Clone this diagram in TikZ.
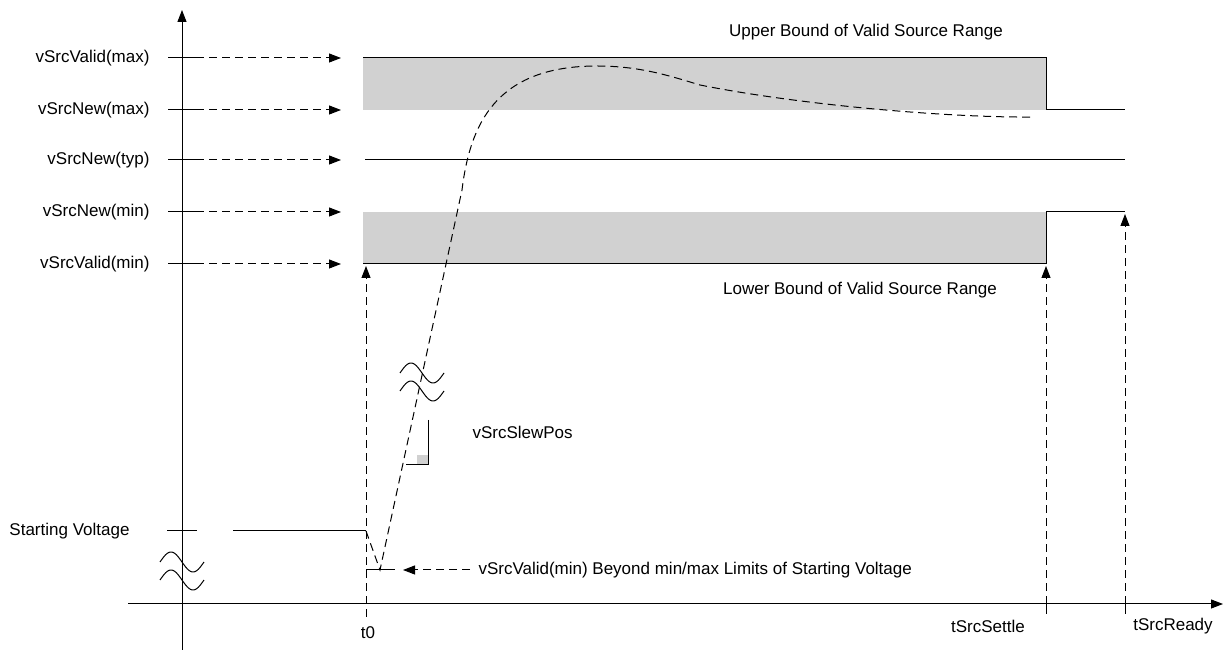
\documentclass[tikz,border=0pt]{standalone}
\usepackage{fontspec}
\setmainfont{Liberation Sans}
\usetikzlibrary{arrows.meta}
\tikzset{
  lbl/.style={font=\fontsize{8.5}{10}\selectfont, inner sep=0pt},
  tip/.style={-{Triangle[length=6pt,width=4.5pt]}},
  dasharrow/.style={tip, dash pattern=on 4pt off 2.5pt},
  dashcurve/.style={dash pattern=on 4pt off 2.5pt},
  band/.style={fill=black!18, draw=none},
}
% two wavy lines marking a break of an axis
\newcommand\axisbreak[2]{%
  \draw[shift={(#1,#2)}] plot[domain=-22:22, samples=40, smooth] (\x, {10*sin(\x*8.18)});
  \draw[shift={(#1,#2+18)}] plot[domain=-22:22, samples=40, smooth] (\x, {10*sin(\x*8.18)});
}
\begin{document}
\begin{tikzpicture}[x=0.5pt, y=-0.5pt, line width=0.5pt]
\useasboundingbox (0,0) rectangle (1223,651);
% valid ranges
\fill[band] (363,58) rectangle (1046,110);
\fill[band] (363,212) rectangle (1046,264);
% axes
\coordinate (yb) at (182,650);
\coordinate (yt) at (182,10);
\coordinate (xl) at (128,604);
\coordinate (xr) at (1223,604);
\draw[tip] (yb) -- (yt);
\draw[tip] (xl) -- (xr);
% levels
\foreach \y/\txt/\nm in {58/vSrcValid(max)/vmax, 110/vSrcNew(max)/nmax,
    160/vSrcNew(typ)/ntyp, 212/vSrcNew(min)/nmin, 264/vSrcValid(min)/vmin} {
  \node[lbl, anchor=east] (\nm) at (150,\y) {\txt};
  \coordinate (\nm-a) at (168,\y);
  \coordinate (\nm-b) at (196,\y);
  \coordinate (\nm-c) at (341,\y);
  \draw (\nm-a) -- (\nm-b);
  \draw[dasharrow] (\nm-b) -- (\nm-c);
}
\node[lbl] (upper) at (866,32) {Upper Bound of Valid Source Range};
\node[lbl] (lower) at (860,290) {Lower Bound of Valid Source Range};
% bounds
\coordinate (ts) at (1046,604);
\coordinate (tr) at (1125,604);
\draw (363,58) -- (1046,58) -- (1046,110) -- (1125,110);
\draw (365,160) -- (1125,160);
\draw (363,264) -- (1046,264) -- (1046,212) -- (1125,212);
% time marks
\coordinate (t0) at (366,617);
\draw[dasharrow] (t0) -- (366,266);
\draw[dasharrow] (ts) -- (1046,266);
\draw[dasharrow] (tr) -- (1125,214);
\draw (1046,597) -- (1046,614);
\draw (1125,597) -- (1125,614);
\node[lbl] (t0lbl) at (368,633) {t0};
\node[lbl] (tslbl) at (988,626) {tSrcSettle};
\node[lbl] (trlbl) at (1173,626) {tSrcReady};
% starting voltage
\node[lbl, anchor=east] (start) at (130,531) {Starting Voltage};
\draw (167,531) -- (197,531);
\draw (233,531) -- (366,531);
\axisbreak{182}{562}
% source voltage
\draw[dashcurve] (366,531) -- (380,570) -- (462,190)
  .. controls (470,125) and (495,66) .. (597,66)
  .. controls (640,66) and (670,76) .. (700,85)
  .. controls (800,105) and (950,118) .. (1035,117);
\draw (366,570) -- (395,570);
\coordinate (dipa) at (470,570);
\coordinate (dipb) at (403,570);
\draw[dasharrow] (dipa) -- (dipb);
\node[lbl, anchor=west] (dip) at (478,570) {vSrcValid(min) Beyond min/max Limits of Starting Voltage};
% slew rate
\axisbreak{422}{373}
\fill[black!18] (417,455) rectangle (428,465);
\draw (428,420) -- (428,465) -- (406,465);
\node[lbl, anchor=west] (slew) at (472,432) {vSrcSlewPos};
\end{tikzpicture}
\end{document}
